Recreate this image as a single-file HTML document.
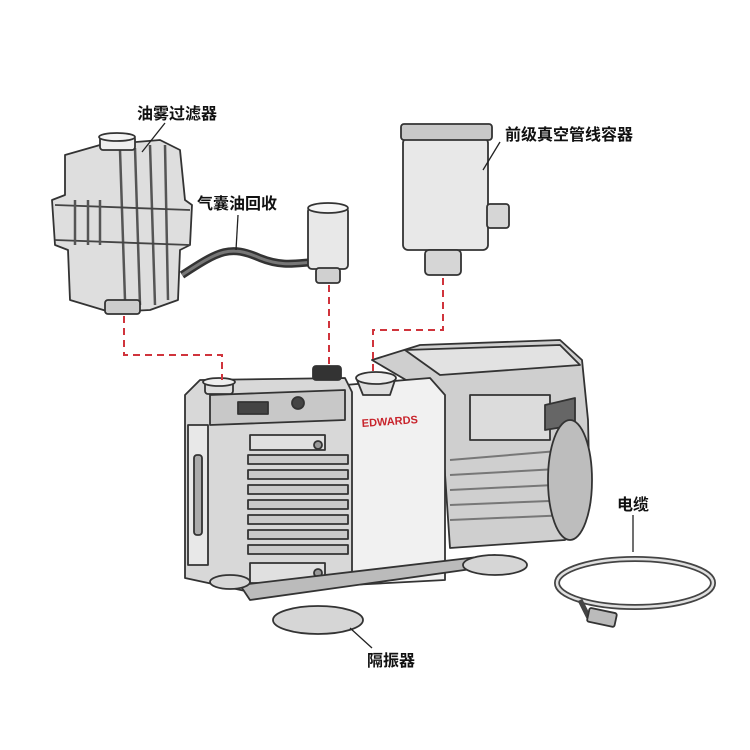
<!DOCTYPE html>
<html><head><meta charset="utf-8"><style>
html,body{margin:0;padding:0;background:#fff;width:750px;height:750px;overflow:hidden}
svg{display:block}
text{font-family:"Liberation Sans","Noto Sans CJK SC",sans-serif;font-weight:bold;font-size:16px;fill:#111}
</style></head><body>
<svg width="750" height="750" viewBox="0 0 750 750" xmlns="http://www.w3.org/2000/svg">
<g stroke="#333" stroke-width="1.8" stroke-linejoin="round">
<!-- Oil mist filter -->
<path d="M65,155 L100,145 L160,140 L180,150 L185,200 L192,205 L190,245 L180,250 L178,300 L150,310 L110,312 L70,300 L68,250 L55,245 L52,200 L65,195 Z" fill="#dedede"/>
<path d="M120,150 L125,300 M135,148 L140,305 M150,145 L155,305 M165,145 L168,300" fill="none" stroke="#555" stroke-width="2.5"/>
<path d="M55,205 L190,210 M55,240 L190,245" fill="none" stroke="#444"/>
<path d="M75,200 L75,245 M88,200 L88,245 M100,200 L100,245" fill="none" stroke="#555" stroke-width="2.5"/>
<rect x="100" y="136" width="35" height="14" rx="3" fill="#eee"/>
<ellipse cx="117" cy="137" rx="18" ry="4" fill="#f4f4f4"/>
<rect x="105" y="300" width="35" height="14" rx="3" fill="#ccc"/>
<!-- hose -->
<path d="M182,275 C220,250 230,245 260,258 C285,268 300,262 318,262" fill="none" stroke="#333" stroke-width="8"/>
<path d="M182,275 C220,250 230,245 260,258 C285,268 300,262 318,262" fill="none" stroke="#777" stroke-width="3"/>
<!-- small cylinder -->
<rect x="308" y="207" width="40" height="62" rx="4" fill="#e8e8e8"/>
<ellipse cx="328" cy="208" rx="20" ry="5" fill="#f6f6f6"/>
<rect x="316" y="268" width="24" height="15" rx="3" fill="#d0d0d0"/>
<!-- big canister -->
<rect x="403" y="138" width="85" height="112" rx="5" fill="#e8e8e8"/>
<rect x="401" y="124" width="91" height="16" rx="3" fill="#c8c8c8"/>
<rect x="487" y="204" width="22" height="24" rx="3" fill="#d6d6d6"/>
<rect x="425" y="250" width="36" height="25" rx="4" fill="#d6d6d6"/>
<!-- pump motor -->
<path d="M372,360 L420,345 L560,340 L582,360 L588,420 L590,505 L565,540 L450,548 L440,400 Z" fill="#cfcfcf"/>
<path d="M405,350 L560,345 L580,365 L440,375 Z" fill="#e2e2e2"/>
<rect x="470" y="395" width="80" height="45" fill="#dcdcdc"/>
<path d="M545,405 L575,398 L575,425 L545,430 Z" fill="#666"/>
<path d="M450,460 L570,450 M450,475 L575,468 M450,490 L575,484 M450,505 L575,500 M450,520 L570,515" fill="none" stroke="#777" stroke-width="2"/>
<ellipse cx="570" cy="480" rx="22" ry="60" fill="#bdbdbd"/>
<!-- middle panel -->
<path d="M345,385 L430,378 L445,395 L445,580 L350,585 Z" fill="#f1f1f1"/>
<!-- left box -->
<path d="M185,395 L200,380 L345,378 L352,392 L352,585 L250,592 L185,578 Z" fill="#d8d8d8"/>
<path d="M210,395 L345,390 L345,420 L210,425 Z" fill="#c8c8c8"/>
<rect x="188" y="425" width="20" height="140" fill="#e8e8e8"/>
<rect x="194" y="455" width="8" height="80" rx="3" fill="#aaa"/>
<g fill="#cacaca">
<rect x="248" y="455" width="100" height="9"/><rect x="248" y="470" width="100" height="9"/><rect x="248" y="485" width="100" height="9"/><rect x="248" y="500" width="100" height="9"/><rect x="248" y="515" width="100" height="9"/><rect x="248" y="530" width="100" height="9"/><rect x="248" y="545" width="100" height="9"/>
</g>
<rect x="250" y="435" width="75" height="15" fill="#e0e0e0"/>
<rect x="250" y="563" width="75" height="20" fill="#e0e0e0"/>
<circle cx="318" cy="445" r="4" fill="#999"/><circle cx="318" cy="573" r="4" fill="#999"/>
<!-- top parts -->
<rect x="205" y="382" width="28" height="12" rx="3" fill="#ddd"/>
<ellipse cx="219" cy="382" rx="16" ry="4" fill="#eee"/>
<rect x="238" y="402" width="30" height="12" fill="#444"/>
<circle cx="298" cy="403" r="6" fill="#444"/>
<rect x="313" y="366" width="28" height="14" rx="3" fill="#333"/>
<path d="M357,380 L363,395 L390,395 L395,380 Z" fill="#ddd"/>
<ellipse cx="376" cy="378" rx="20" ry="6" fill="#eee"/>
<!-- base -->
<path d="M240,585 L495,555 L500,565 L250,600 Z" fill="#bbb"/>
<ellipse cx="318" cy="620" rx="45" ry="14" fill="#d6d6d6"/>
<ellipse cx="495" cy="565" rx="32" ry="10" fill="#d6d6d6"/>
<ellipse cx="230" cy="582" rx="20" ry="7" fill="#d6d6d6"/>
<!-- cable -->
<ellipse cx="635" cy="583" rx="78" ry="24" fill="none" stroke="#444" stroke-width="6"/>
<ellipse cx="635" cy="583" rx="78" ry="24" fill="none" stroke="#e0e0e0" stroke-width="2.5"/>
<path d="M580,600 L590,620" fill="none" stroke="#444" stroke-width="5"/>
<rect x="588" y="610" width="28" height="14" rx="2" fill="#bbb" transform="rotate(12 600 617)"/>
</g>
<text x="362" y="427" style="font-size:11px;fill:#c8242c;font-weight:bold" transform="rotate(-4 362 427)">EDWARDS</text>
<g fill="none" stroke="#d0343c" stroke-width="2" stroke-dasharray="7,5">
<path d="M124,316 V355 H222 V380"/>
<path d="M329,285 V366"/>
<path d="M443,278 V330 H373 V372"/>
</g>
<g stroke="#222" stroke-width="1.3" fill="none">
<path d="M165,123 L142,152"/>
<path d="M238,215 L236,250"/>
<path d="M500,142 L483,170"/>
<path d="M633,515 L633,552"/>
<path d="M372,648 L350,628"/>
</g>
<text x="137" y="119">油雾过滤器</text>
<text x="197" y="209">气囊油回收</text>
<text x="505" y="140">前级真空管线容器</text>
<text x="617" y="510">电缆</text>
<text x="367" y="666">隔振器</text>
</svg>
</body></html>
